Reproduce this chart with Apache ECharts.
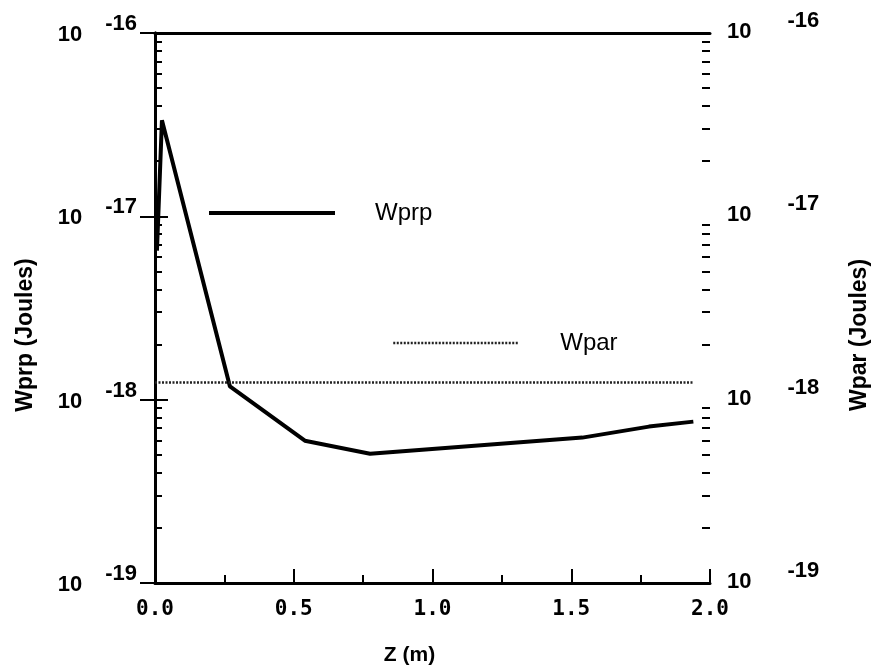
<!DOCTYPE html>
<html>
<head>
<meta charset="utf-8">
<script src="https://cdn.jsdelivr.net/npm/echarts@6/dist/echarts.min.js"></script>
<style>
  html, body { margin: 0; padding: 0; background: #fff; }
  #chart { width: 871px; height: 665px; }
</style>
</head>
<body>
<div id="chart"></div>
<script>
// Wprp curve (Joules) against Z (m)
const zWprp = [0.007, 0.025, 0.27, 0.54, 0.775, 1.54, 1.78, 1.94]
const wprp = [6.5e-18, 3.34e-17, 1.18e-18, 5.97e-19, 5.07e-19, 6.21e-19, 7.13e-19, 7.59e-19]

// Wpar stays flat
const zWpar = [0.0, 1.94]
const wpar = [1.24e-18, 1.24e-18]

// log axis range
const yMin = 1e-19
const yMax = 1e-16

// minor tick positions inside each decade (2..9), in exponent space
const decades = [-19, -18, -17]
const minorSteps = [2, 3, 4, 5, 6, 7, 8, 9]
const minorTicks = []
decades.forEach(d => minorSteps.forEach(k => minorTicks.push(d + Math.log10(k))))

const pair = (xs, ys) => xs.map((x, i) => [x, ys[i]])

const labelFont = 'Liberation Sans, Arial, sans-serif'
const powRich = gap => ({
  m: { fontSize: 22, fontWeight: 'bold', fontFamily: labelFont, color: '#000', lineHeight: 22, verticalAlign: 'bottom' },
  g: { width: gap, lineHeight: 33 },
  e: { fontSize: 22, fontWeight: 'bold', fontFamily: labelFont, color: '#000', lineHeight: 22, verticalAlign: 'top' }
})
const powLabel = v => '{m|10}{g| }{e|' + Math.round(Math.log10(v)) + '}'

const axisLine = { show: true, lineStyle: { color: '#000', width: 3 } }
const nameStyle = { fontSize: 23, fontWeight: 'bold', fontFamily: 'Liberation Sans, Arial, sans-serif', color: '#000' }
const legendText = { fontSize: 24, fontFamily: 'Liberation Sans, Arial, sans-serif', color: '#000' }

const wprpLine = { color: '#000', width: 4 }
const wparLine = { color: '#222', width: 2.5, type: [2, 1.5] }

const chart = echarts.init(document.getElementById('chart'))

chart.setOption({
  animation: false,
  backgroundColor: '#fff',
  grid: { left: 155, right: 161, top: 33, bottom: 82, containLabel: false, outerBoundsMode: 'none' },
  legend: [
    {
      data: ['Wprp'],
      left: 207, top: 201, padding: 0,
      itemWidth: 126, itemHeight: 24,
      selectedMode: false,
      itemStyle: { opacity: 0 },
      lineStyle: wprpLine,
      textStyle: Object.assign({}, legendText, { padding: [0, 0, 0, 35] })
    },
    {
      data: ['Wpar'],
      left: 392, top: 331, padding: 0,
      itemWidth: 126, itemHeight: 24,
      selectedMode: false,
      itemStyle: { opacity: 0 },
      lineStyle: wparLine,
      textStyle: Object.assign({}, legendText, { padding: [0, 0, 0, 36] })
    }
  ],
  xAxis: [
    {
      type: 'value',
      min: 0, max: 2, interval: 0.5,
      name: 'Z (m)',
      nameLocation: 'middle',
      nameGap: 62,
      nameTextStyle: Object.assign({}, nameStyle, { fontSize: 21, padding: [0, 46, 0, 0] }),
      axisLine: axisLine,
      axisTick: { inside: true, length: 14, lineStyle: { color: '#000', width: 2 } },
      minorTick: { show: true, splitNumber: 2, length: 8, lineStyle: { color: '#000', width: 2 } },
      axisLabel: {
        margin: 16,
        fontSize: 21, fontWeight: 'bold', fontFamily: 'DejaVu Sans Mono, monospace', color: '#000',
        formatter: v => v.toFixed(1)
      },
      splitLine: { show: false }
    },
    {
      type: 'value',
      position: 'top',
      min: 0, max: 2,
      axisLine: axisLine,
      axisTick: { show: false },
      axisLabel: { show: false },
      splitLine: { show: false }
    }
  ],
  yAxis: [
    {
      type: 'log',
      position: 'left',
      min: yMin, max: yMax,
      name: 'Wprp (Joules)',
      nameLocation: 'middle',
      nameRotate: 90,
      nameGap: 118,
      nameTextStyle: Object.assign({}, nameStyle, { padding: [0, 54, 0, 0] }),
      axisLine: axisLine,
      axisTick: { inside: true, length: 13, lineStyle: { color: '#000', width: 2 } },
      axisLabel: { margin: 18, padding: [0, 0, 7, 0], formatter: powLabel, rich: powRich(23) },
      splitLine: { show: false }
    },
    {
      type: 'log',
      position: 'right',
      min: yMin, max: yMax,
      name: 'Wpar (Joules)',
      nameLocation: 'middle',
      nameRotate: 90,
      nameGap: 138,
      nameTextStyle: Object.assign({}, nameStyle, { padding: [0, 54, 0, 0] }),
      axisLine: axisLine,
      axisTick: { inside: true, length: 15, lineStyle: { color: '#000', width: 2 } },
      axisLabel: { margin: 17, padding: [0, 0, 13, 0], formatter: powLabel, rich: powRich(36) },
      splitLine: { show: false }
    },
    {
      type: 'value',
      position: 'left',
      min: -19, max: -16,
      axisLine: { show: false },
      axisTick: { inside: true, length: 7, customValues: minorTicks, lineStyle: { color: '#000', width: 2 } },
      axisLabel: { show: false },
      splitLine: { show: false }
    },
    {
      type: 'value',
      position: 'right',
      min: -19, max: -16,
      axisLine: { show: false },
      axisTick: { inside: true, length: 8, customValues: minorTicks, lineStyle: { color: '#000', width: 2 } },
      axisLabel: { show: false },
      splitLine: { show: false }
    }
  ],
  series: [
    {
      name: 'Wprp',
      type: 'line',
      xAxisIndex: 0,
      yAxisIndex: 0,
      symbol: 'none',
      data: pair(zWprp, wprp),
      lineStyle: wprpLine,
      itemStyle: { color: '#000' }
    },
    {
      name: 'Wpar',
      type: 'line',
      xAxisIndex: 0,
      yAxisIndex: 1,
      symbol: 'none',
      data: pair(zWpar, wpar),
      lineStyle: wparLine,
      itemStyle: { color: '#222' }
    }
  ]
})
</script>
</body>
</html>
